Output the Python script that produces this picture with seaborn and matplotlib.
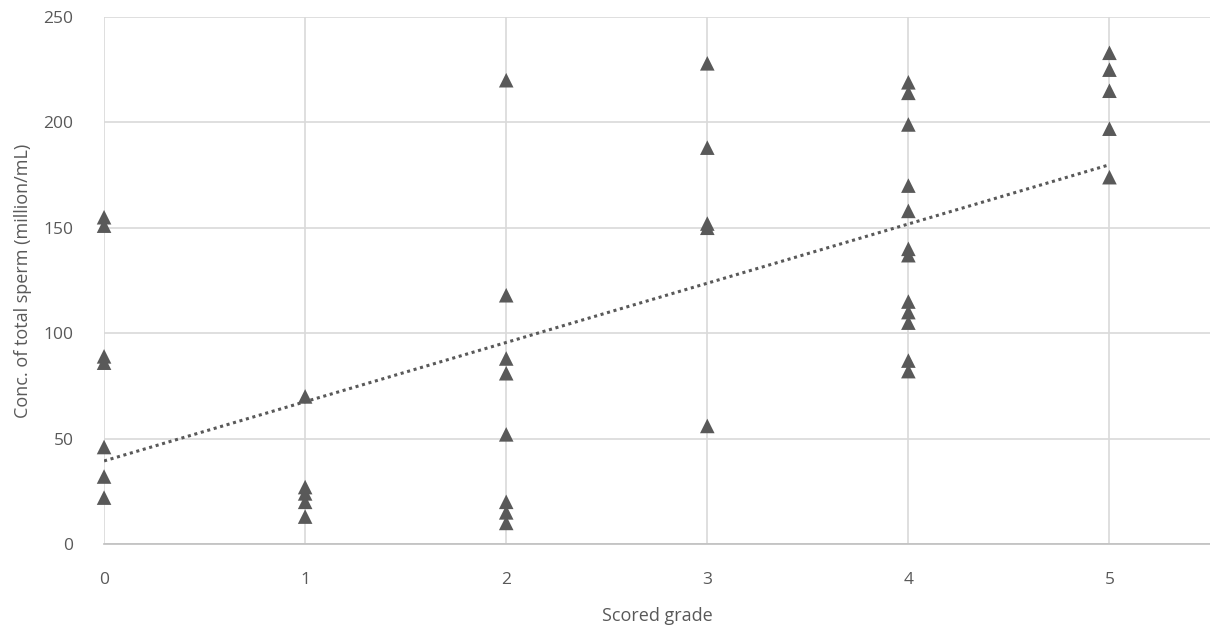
import numpy as np
import pandas as pd
import matplotlib
matplotlib.use("Agg")
import matplotlib.pyplot as plt
import seaborn as sns

# scored grade of each sample and the measured concentration
grade_0 = [155, 151, 89, 86, 46, 32, 22]
grade_1 = [70, 27, 24, 20, 13]
grade_2 = [220, 118, 88, 81, 52, 20, 15, 10]
grade_3 = [228, 188, 152, 150, 56]
grade_4 = [219, 214, 199, 170, 158, 140, 137, 115, 110, 105, 87, 82]
grade_5 = [233, 225, 215, 197, 174]

# linear trendline
trend_intercept = 39.4
trend_slope = 28.1
trend_x = [0, 5]

x_ticks = [0, 1, 2, 3, 4, 5]
y_ticks = [0, 50, 100, 150, 200, 250]

grades = [grade_0, grade_1, grade_2, grade_3, grade_4, grade_5]
df = pd.DataFrame({
    "grade": [g for g, vals in enumerate(grades) for _ in vals],
    "conc": [v for vals in grades for v in vals],
})

sns.set_style("whitegrid")
plt.rcParams["font.family"] = ["Open Sans", "DejaVu Sans"]

fig = plt.figure(figsize=(12.1, 6.35), dpi=100)
ax = fig.add_axes([0.086, 0.1433, 0.914, 0.83])

grey = "#595959"
sns.scatterplot(data=df, x="grade", y="conc", marker="^", s=110,
                color=grey, edgecolor="none", ax=ax, zorder=3, clip_on=False)

trend_y = [trend_intercept + trend_slope * x for x in trend_x]
ax.plot(trend_x, trend_y, linestyle=(0, (1, 1.2)), color=grey,
        linewidth=2.2, zorder=2)

ax.set_xlim(0, 5.5)
ax.set_ylim(0, 250)
ax.set_xticks(x_ticks)
ax.set_yticks(y_ticks)
ax.grid(True, color="#d9d9d9", linewidth=1.2)
for side in ["top", "right", "left"]:
    ax.spines[side].set_visible(False)
ax.spines["bottom"].set_color("#bfbfbf")
ax.spines["bottom"].set_linewidth(1.2)
ax.tick_params(axis="both", length=0, labelsize=12.5, labelcolor=grey)
ax.tick_params(axis="x", pad=20)
ax.tick_params(axis="y", pad=22)

ax.set_xlabel("Scored grade", fontsize=13, color=grey, labelpad=14)
ax.set_ylabel("Conc. of total sperm (million/mL)", fontsize=13, color=grey,
              labelpad=8)

fig.savefig("out.png", dpi=100)
